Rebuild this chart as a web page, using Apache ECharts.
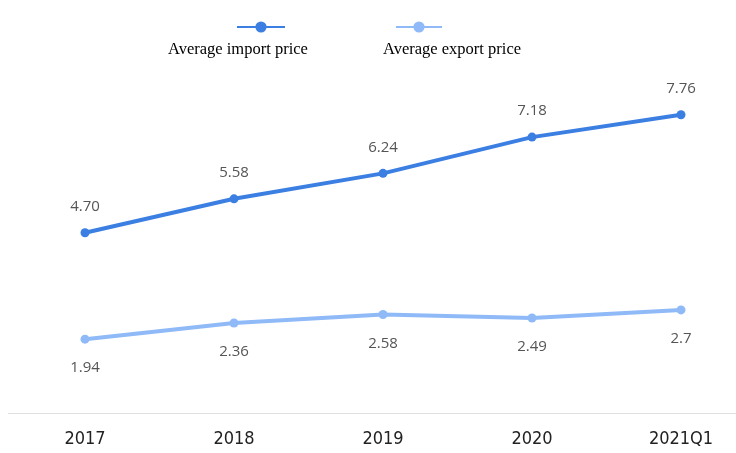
<!DOCTYPE html>
<html>
<head>
<meta charset="utf-8">
<script src="https://cdn.jsdelivr.net/npm/echarts@6/dist/echarts.min.js"></script>
<style>
  html, body { margin: 0; padding: 0; background: #fff; }
  #main { width: 736px; height: 453px; }
</style>
</head>
<body>
<div id="main"></div>
<script>
// data
var years = ['2017', '2018', '2019', '2020', '2021Q1'];
var importPrice = [4.70, 5.58, 6.24, 7.18, 7.76];
var exportPrice = [1.94, 2.36, 2.58, 2.49, 2.7];
var seriesNames = ['Average import price', 'Average export price'];

var myChart = echarts.init(document.getElementById('main'));

var option = {
    backgroundColor: '#fff',
    animation: false,
    grid: { left: 85, right: 55, top: 105.5, bottom: 39 },
    legend: [
        { data: [seriesNames[0]], left: 231, top: 15, itemWidth: 48, itemHeight: 14, formatter: function () { return ''; } },
        { data: [seriesNames[1]], left: 390, top: 15, itemWidth: 46, itemHeight: 14, formatter: function () { return ''; } }
    ],
    xAxis: {
        type: 'category',
        data: years,
        boundaryGap: false,
        axisLine: { show: false },
        axisTick: { show: false },
        axisLabel: { color: '#222', fontSize: 18, margin: 16, fontFamily: '"Liberation Sans Narrow", "DejaVu Sans Condensed", sans-serif' }
    },
    yAxis: { type: 'value', min: 0, max: 8, show: false },
    graphic: [
        // x axis baseline spans the full width
        { type: 'line', shape: { x1: 8, y1: 413.5, x2: 736, y2: 413.5 }, style: { stroke: '#e0e0e0', lineWidth: 1 } },
        { type: 'text', left: 168, top: 41, style: { text: seriesNames[0], font: '16.5px "Liberation Serif"', fill: '#000' } },
        { type: 'text', left: 383, top: 41, style: { text: seriesNames[1], font: '16.5px "Liberation Serif"', fill: '#000' } }
    ],
    series: [{
        name: seriesNames[0],
        type: 'line',
        data: importPrice,
        symbol: 'circle',
        symbolSize: 9,
        lineStyle: { width: 4, color: '#3c7fe2' },
        itemStyle: { color: '#3c7fe2' },
        label: {
            show: true, position: 'top', distance: 14, color: '#555', fontSize: 15, fontFamily: 'Open Sans',
            formatter: function (p) { return p.value.toFixed(2); }
        }
    }, {
        name: seriesNames[1],
        type: 'line',
        data: exportPrice,
        symbol: 'circle',
        symbolSize: 9,
        lineStyle: { width: 4, color: '#8fbaf7' },
        itemStyle: { color: '#8fbaf7' },
        label: {
            show: true, position: 'bottom', distance: 17, color: '#555', fontSize: 15, fontFamily: 'Open Sans',
            formatter: function (p) { return String(p.value); }
        }
    }]
};
myChart.setOption(option);
</script>
</body>
</html>
